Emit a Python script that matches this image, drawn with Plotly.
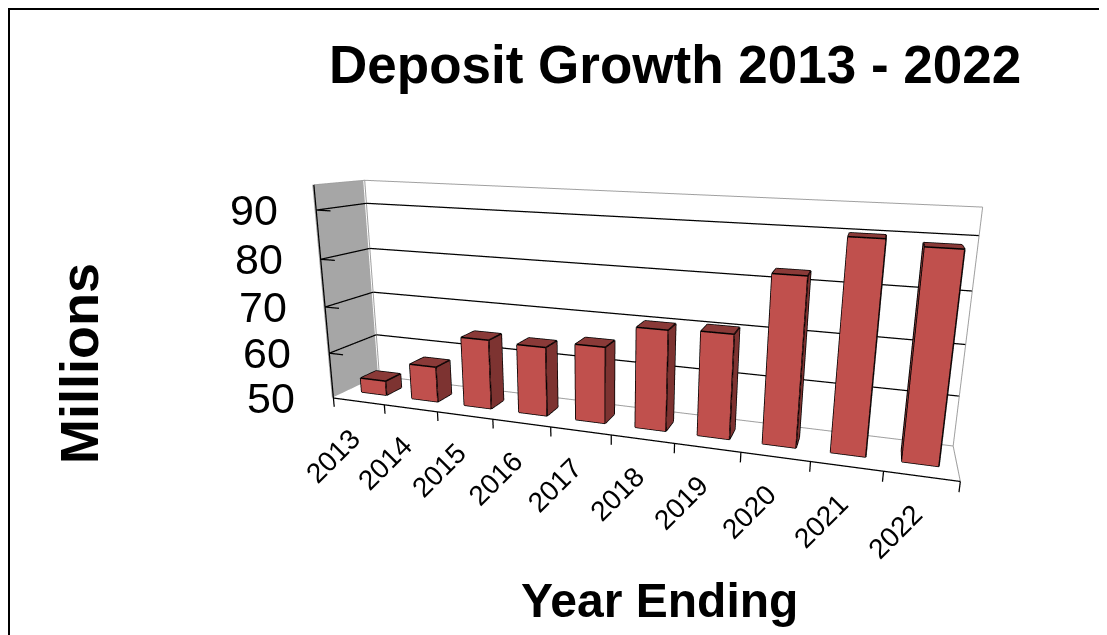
import plotly.graph_objects as go

YEARS = ["2013","2014","2015","2016","2017","2018","2019","2020","2021","2022"]
DEPOSITS = [53.2,57.7,64.8,64.5,65.8,70.4,70.8,82.6,89.9,88.9]
Y_TICKS = [50,60,70,80,90]
ZMIN, ZTOP = 50, 95
W, H = 1107, 635
XR=(-.2,10.2);YR=(-.05,1.05);ZR=(47,96)
ASPECT = dict(x=1.7771,y=0.2368,z=0.664)
EYE = dict(x=0.6275,y=-1.8647,z=0.4842)
CENTER = dict(x=0.0476,y=0.1676,z=-0.059)
UP = dict(x=-0.0202,y=0,z=1)
XDOM = [0.178,1.0]

bx,by,bz,bi,bj,bk,bc=[],[],[],[],[],[],[]
lx,ly,lz=[],[],[]
ax2,ay2,az2=[],[],[]
FRONT,SIDE,TOP="#C0504D","#7D3331","#8A3A38"
faces=[((0,1,5),FRONT),((0,5,4),FRONT),((1,2,6),SIDE),((1,6,5),SIDE),((4,5,6),TOP),((4,6,7),TOP),
       ((0,3,2),SIDE),((0,2,1),SIDE),((3,7,6),SIDE),((3,6,2),SIDE),((0,4,7),SIDE),((0,7,3),SIDE)]
edges=[(0,1),(1,2),(2,3),(3,0),(4,5),(5,6),(6,7),(7,4),(0,4),(1,5),(2,6),(3,7)]
def seg(a,b,o):
    o[0].extend([a[0],b[0],None]);o[1].extend([a[1],b[1],None]);o[2].extend([a[2],b[2],None])
for n,v in enumerate(DEPOSITS):
    x0,x1,y0,y1=n+.25,n+.75,.33,.67
    cs=[(x0,y0,ZMIN),(x1,y0,ZMIN),(x1,y1,ZMIN),(x0,y1,ZMIN),(x0,y0,v),(x1,y0,v),(x1,y1,v),(x0,y1,v)]
    b=len(bx)
    for c in cs:
        bx.append(c[0]);by.append(c[1]);bz.append(c[2])
    for (a,c,d),col in faces:
        bi.append(b+a);bj.append(b+c);bk.append(b+d);bc.append(col)
    for a,c in edges:
        seg(cs[a],cs[c],(lx,ly,lz))
A=(ax2,ay2,az2)
seg((0,0,ZMIN),(0,0,ZTOP),A);seg((0,0,ZMIN),(10,0,ZMIN),A)
for i in range(11):
    seg((i,0,ZMIN),(i,0,48),A)
for t in Y_TICKS[1:]:
    seg((0,0,t),(.27,0,t),A);seg((0,0,t),(0,1,t),A);seg((0,1,t),(10,1,t),A)
gx,gy,gz=[],[],[]
for a,b_ in [((0,1,ZMIN),(0,1,ZTOP)),((0,1,ZTOP),(10,1,ZTOP)),((10,1,ZTOP),(10,1,ZMIN)),((10,1,ZMIN),(0,1,ZMIN)),((10,1,ZMIN),(10,0,ZMIN)),((0,0,ZTOP),(0,1,ZTOP))]:
    seg(a,b_,(gx,gy,gz))

flat=dict(ambient=1,diffuse=0,specular=0,fresnel=0,roughness=1)
fig=go.Figure()
fig.add_trace(go.Mesh3d(x=[-.03,-.03,-.03,-.03],y=[0,1,1,0],z=[ZMIN,ZMIN,ZTOP,ZTOP],i=[0,0],j=[1,2],k=[2,3],color="#A6A6A6",hoverinfo="skip",lighting=flat))
fig.add_trace(go.Mesh3d(x=bx,y=by,z=bz,i=bi,j=bj,k=bk,facecolor=bc,flatshading=True,hoverinfo="skip",lighting=flat))
fig.add_trace(go.Scatter3d(x=gx,y=gy,z=gz,mode="lines",line=dict(color="#A0A0A0",width=2),hoverinfo="skip"))
fig.add_trace(go.Scatter3d(x=ax2,y=ay2,z=az2,mode="lines",line=dict(color="black",width=2.5),hoverinfo="skip"))
fig.add_trace(go.Scatter3d(x=lx,y=ly,z=lz,mode="lines",line=dict(color="black",width=3),hoverinfo="skip"))
annos=[]
for n,y in enumerate(YEARS):
    annos.append(dict(x=n+.5,y=0,z=ZMIN,text=y,showarrow=False,textangle=-45,xshift=-26,yshift=-55,
                      font=dict(family="Liberation Sans",size=28,color="black")))
for t in Y_TICKS:
    annos.append(dict(x=0,y=0,z=t,text=str(t),showarrow=False,xanchor="right",xshift=-36,
                      font=dict(family="Liberation Sans",size=43,color="black")))
def axis(rng):
    return dict(range=list(rng),visible=False,showspikes=False,showgrid=False,zeroline=False,showline=False,showbackground=False,showticklabels=False,ticks="")
fig.update_layout(width=W,height=H,margin=dict(l=0,r=0,t=0,b=0),paper_bgcolor="white",showlegend=False,
    scene=dict(domain=dict(x=XDOM,y=[0,1]),bgcolor="white",xaxis=axis(XR),yaxis=axis(YR),zaxis=axis(ZR),dragmode="orbit",
        aspectmode="manual",aspectratio=ASPECT,
        camera=dict(eye=EYE,center=CENTER,up=UP,projection=dict(type="perspective")),
        annotations=annos),
    annotations=[
        dict(xref="paper",yref="paper",x=667/W,y=1-56/H,xanchor="center",yanchor="middle",text="<b>Deposit Growth 2013 - 2022</b>",showarrow=False,
             font=dict(family="Liberation Sans",size=53,color="black")),
        dict(xref="paper",yref="paper",x=71/W,y=1-356/H,xanchor="center",yanchor="middle",text="<b>Millions</b>",showarrow=False,textangle=-90,
             font=dict(family="Liberation Sans",size=54,color="black")),
        dict(xref="paper",yref="paper",x=651/W,y=1-592/H,xanchor="center",yanchor="middle",text="<b>Year Ending</b>",showarrow=False,
             font=dict(family="Liberation Sans",size=48,color="black")),
    ],
    shapes=[dict(type="line",xref="paper",yref="paper",x0=0,x1=1,y0=1-1/H,y1=1-1/H,line=dict(color="black",width=2),layer="above"),
            dict(type="line",xref="paper",yref="paper",x0=1/W,x1=1/W,y0=0,y1=1,line=dict(color="black",width=2),layer="above")])
fig.write_html("out.html")
